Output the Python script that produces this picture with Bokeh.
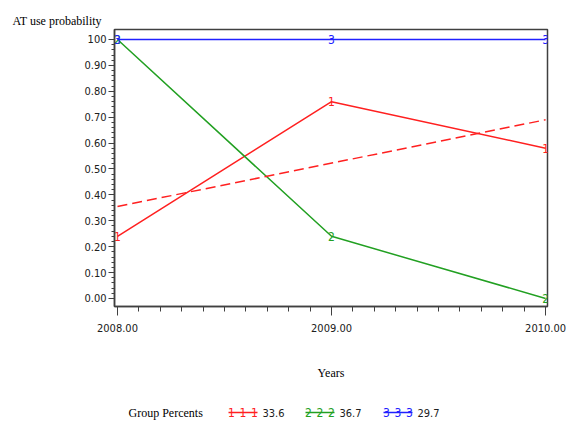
from bokeh.plotting import figure
from bokeh.models import FixedTicker, Range1d
from bokeh.layouts import column
from bokeh.core.properties import value
from bokeh.embed import file_html
from bokeh.resources import INLINE

# ---- data ----
years = [2008, 2009, 2010]
group1 = [0.24, 0.76, 0.58]
group2 = [1.00, 0.24, 0.00]
group3 = [1.00, 1.00, 1.00]
trend_years = [2008, 2010]
trend1 = [0.355, 0.69]
group_ids = ["1", "2", "3"]
group_percents = [33.6, 36.7, 29.7]
colors = ["#ff2020", "#22a022", "#2020ff"]
y_ticks = [0.0, 0.1, 0.2, 0.3, 0.4, 0.5, 0.6, 0.7, 0.8, 0.9, 1.0]
y_tick_labels = ["0.00", "0.10", "0.20", "0.30", "0.40", "0.50", "0.60", "0.70", "0.80", "0.90", "100"]
x_ticks = [2008, 2009, 2010]
x_tick_labels = ["2008.00", "2009.00", "2010.00"]

SANS = "DejaVu Sans Condensed"
SERIF = "Liberation Serif"
DARK = "#404040"

W = 568
H1 = 395
H2 = 30
ML, MR = 114, 21

p = figure(width=W, height=H1, output_backend="svg", toolbar_location=None,
           x_range=Range1d(2007.986, 2010.009), y_range=Range1d(-0.031, 1.0386),
           min_border_left=ML, min_border_right=MR, min_border_top=29, min_border_bottom=89,
           title="AT use probability")
p.grid.visible = False
p.outline_line_color = DARK
p.outline_line_width = 1.5
p.background_fill_color = "white"
p.border_fill_color = "white"

p.title.text_font = SERIF
p.title.text_font_size = "12px"
p.title.text_font_style = "normal"
p.title.text_color = "black"
p.title.align = "left"
p.title.offset = -102
p.title.standoff = 4

# axes
p.xaxis.ticker = FixedTicker(ticks=x_ticks, minor_ticks=[2008 + i / 10 for i in range(21)])
p.xaxis.major_label_overrides = {t: l for t, l in zip(x_ticks, x_tick_labels)}
p.yaxis.ticker = FixedTicker(ticks=y_ticks, minor_ticks=[i / 50 for i in range(51)])
p.yaxis.major_label_overrides = {t: l for t, l in zip(y_ticks, y_tick_labels)}
for ax in (p.xaxis[0], p.yaxis[0]):
    ax.axis_line_color = DARK
    ax.axis_line_width = 1.5
    ax.major_tick_line_color = DARK
    ax.minor_tick_line_color = DARK
    ax.major_label_text_font = SANS
    ax.major_label_text_font_size = "11px"
    ax.major_label_text_color = "#202020"
    ax.major_tick_in = 0
    ax.minor_tick_in = 0
p.xaxis.major_tick_out = 9
p.xaxis.minor_tick_out = 5
p.xaxis.major_label_standoff = 8
p.yaxis.major_tick_out = 6
p.yaxis.minor_tick_out = 3
p.yaxis.major_label_standoff = 2
p.xaxis.axis_label = "Years"
p.xaxis.axis_label_text_font = SERIF
p.xaxis.axis_label_text_font_size = "12px"
p.xaxis.axis_label_text_font_style = "normal"
p.xaxis.axis_label_text_color = "black"
p.xaxis.axis_label_standoff = 31

# series
series = [group1, group2, group3]
for vals, col, gid in zip(series, colors, group_ids):
    p.line(years, vals, line_color=col, line_width=1.5)
    p.text(years, vals, text=[gid] * len(years), text_color=col, text_font=value(SANS),
           text_font_size="12px", text_align="center", text_baseline="middle")
p.line(trend_years, trend1, line_color=colors[0], line_width=1.5, line_dash="10 5")

# ---- legend strip (x in window pixels, frame aligned with main frame) ----
lg = figure(width=W, height=H2, output_backend="svg", toolbar_location=None,
            x_range=Range1d(ML, W - MR), y_range=Range1d(0, H2),
            x_axis_location=None, y_axis_location=None,
            min_border_left=ML, min_border_right=MR, min_border_top=0, min_border_bottom=0)
lg.grid.visible = False
lg.outline_line_color = None
lg.background_fill_color = "white"
lg.border_fill_color = "white"

yc = 13
lg.text([128], [yc], text=["Group Percents"], text_font=value(SERIF), text_font_size="12px",
        text_baseline="middle", text_color="black")
sym_starts = [228, 305, 383]
for s, col, gid, pct in zip(sym_starts, colors, group_ids, group_percents):
    lg.line([s, s + 29], [yc, yc], line_color=col, line_width=1.5)
    lg.text([s + 3, s + 14.5, s + 26], [yc] * 3, text=[gid] * 3, text_font=value(SANS),
            text_font_size="12px", text_align="center", text_baseline="middle", text_color=col)
    lg.text([s + 34], [yc], text=[f"{pct}"], text_font=value(SANS), text_font_size="11px",
            text_baseline="middle", text_color="#202020")

layout = column(p, lg, spacing=0)
open("out.html", "w").write(file_html(layout, INLINE))
